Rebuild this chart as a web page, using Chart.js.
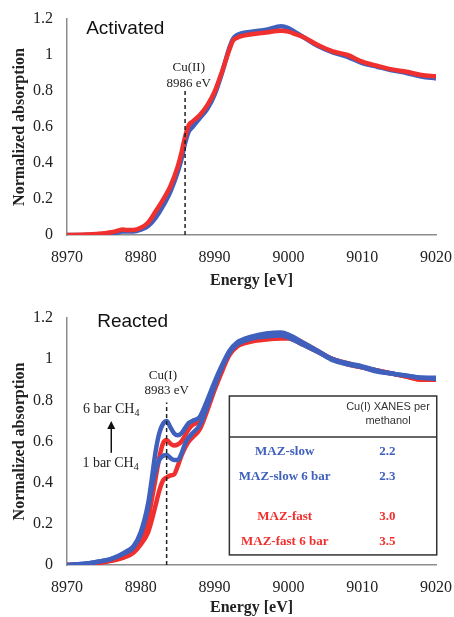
<!DOCTYPE html>
<html><head><meta charset="utf-8">
<script src="https://cdn.jsdelivr.net/npm/chart.js@4.4.1/dist/chart.umd.min.js"></script>
<style>
html,body{margin:0;padding:0;background:#fff;}
#wrap{position:relative;width:454px;height:617px;overflow:hidden;}
canvas{position:absolute;left:0;}
#c1{top:0}
#c2{top:300px}
</style></head><body>
<div id="wrap">
<canvas id="c1" width="454" height="300"></canvas>
<canvas id="c2" width="454" height="317"></canvas>
</div>
<script>
// ── DATA: activated (top) ──
const actEnergy = [8970, 8972, 8974, 8975, 8976, 8977, 8977.5, 8978, 8979, 8980, 8981, 8982, 8983, 8984, 8985, 8985.5, 8986, 8986.5, 8987, 8988, 8989, 8990, 8991, 8992, 8992.5, 8993, 8995, 8997, 8999, 9000, 9001, 9002, 9004, 9006, 9008, 9010, 9012, 9014, 9016, 9018, 9020];
const actRed  = [0, 0.002, 0.005, 0.01, 0.015, 0.025, 0.03, 0.028, 0.028, 0.04, 0.07, 0.13, 0.195, 0.27, 0.38, 0.455, 0.546, 0.61, 0.63, 0.667, 0.72, 0.796, 0.907, 1.03, 1.08, 1.095, 1.115, 1.125, 1.135, 1.13, 1.115, 1.1, 1.055, 1.02, 1.0, 0.963, 0.94, 0.92, 0.907, 0.889, 0.882];
const actBlue = [0, 0, 0, 0.002, 0.008, 0.015, 0.02, 0.02, 0.02, 0.03, 0.05, 0.095, 0.16, 0.24, 0.35, 0.42, 0.51, 0.575, 0.6, 0.65, 0.7, 0.78, 0.9, 1.04, 1.09, 1.11, 1.13, 1.14, 1.16, 1.15, 1.125, 1.1, 1.05, 1.015, 0.99, 0.955, 0.935, 0.915, 0.9, 0.88, 0.87];
const actEdge = 8986;

// ── DATA: reacted (bottom) ──
const reaEnergy = [8970, 8972, 8974, 8976, 8978, 8979, 8980, 8981, 8981.5, 8982, 8982.5, 8983, 8983.5, 8984, 8984.5, 8985, 8985.5, 8986, 8986.5, 8987, 8988, 8989, 8990, 8991, 8992, 8993, 8995, 8997, 8999, 9000, 9002, 9004, 9006, 9008, 9010, 9012, 9014, 9016, 9018, 9020];
const slow6bar = [0, 0.005, 0.015, 0.03, 0.065, 0.09, 0.16, 0.3, 0.42, 0.55, 0.64, 0.685, 0.70, 0.67, 0.64, 0.63, 0.64, 0.665, 0.69, 0.70, 0.72, 0.80, 0.89, 0.97, 1.04, 1.08, 1.11, 1.125, 1.13, 1.12, 1.08, 1.04, 1.0, 0.98, 0.965, 0.945, 0.93, 0.92, 0.91, 0.91];
const slow1bar = [0, 0.005, 0.015, 0.03, 0.06, 0.085, 0.15, 0.28, 0.38, 0.46, 0.51, 0.53, 0.535, 0.52, 0.51, 0.51, 0.54, 0.59, 0.62, 0.64, 0.68, 0.77, 0.87, 0.96, 1.03, 1.07, 1.1, 1.11, 1.115, 1.105, 1.07, 1.035, 0.995, 0.975, 0.96, 0.94, 0.93, 0.92, 0.91, 0.905];
const fast6bar = [0, 0.003, 0.01, 0.025, 0.05, 0.07, 0.11, 0.22, 0.32, 0.42, 0.52, 0.59, 0.607, 0.59, 0.58, 0.585, 0.6, 0.63, 0.66, 0.68, 0.70, 0.78, 0.87, 0.95, 1.03, 1.07, 1.095, 1.105, 1.11, 1.11, 1.08, 1.04, 1.0, 0.98, 0.96, 0.945, 0.93, 0.915, 0.9, 0.9];
const fast1bar = [0, 0.002, 0.008, 0.02, 0.04, 0.06, 0.1, 0.16, 0.22, 0.29, 0.36, 0.41, 0.425, 0.435, 0.44, 0.48, 0.53, 0.57, 0.6, 0.62, 0.66, 0.75, 0.85, 0.94, 1.02, 1.06, 1.085, 1.095, 1.1, 1.1, 1.07, 1.035, 1.0, 0.975, 0.96, 0.945, 0.93, 0.915, 0.9, 0.9];
const reaEdge = 8983.5;

// table inset
const tableNames  = ['MAZ-slow', 'MAZ-slow 6 bar', 'MAZ-fast', 'MAZ-fast 6 bar'];
const tableValues = ['2.2', '2.3', '3.0', '3.5'];

const BLUE = '#3f60bc';
const RED = '#f0302f';
const AXIS = '#8c8c8c';
const SERIF = "'Liberation Serif', 'Times New Roman', serif";
const SANS = "'Liberation Sans', Arial, sans-serif";

const pts = (xs, ys) => xs.map((x, i) => ({ x: x, y: ys[i] }));

function curve(xs, ys, color) {
  return { data: pts(xs, ys), borderColor: color, borderWidth: 4.5, pointRadius: 0, cubicInterpolationMode: 'monotone', fill: false };
}
function edgeLine(x, top) {
  return { data: [{ x: x, y: 0 }, { x: x, y: top }], borderColor: '#222', borderWidth: 1.5, borderDash: [4, 3], pointRadius: 0, fill: false };
}

function scales(xHeight, titlePad) {
  return {
    x: {
      type: 'linear', min: 8970, max: 9020,
      ticks: { stepSize: 10, color: '#222', font: { family: SERIF, size: 16 }, padding: 13, maxRotation: 0, callback: v => String(v) },
      grid: { display: false, drawTicks: false },
      border: { color: AXIS, width: 1.5 },
      title: { display: true, text: 'Energy [eV]', color: '#222', font: { family: SERIF, size: 16, weight: 'bold' }, padding: { top: 0, bottom: titlePad } },
      afterFit: s => { s.height = xHeight; s.paddingLeft = 0; s.paddingRight = 0; }
    },
    y: {
      min: 0, max: 1.2,
      ticks: { stepSize: 0.2, color: '#222', font: { family: SERIF, size: 16 }, padding: 14, callback: v => String(+v.toFixed(1)) },
      grid: { display: false, drawTicks: false },
      border: { color: AXIS, width: 1.5 },
      title: { display: true, text: 'Normalized absorption', color: '#222', font: { family: SERIF, size: 16, weight: 'bold' }, padding: { top: 10, bottom: 0 } },
      afterFit: s => { s.width = 67; s.paddingTop = 0; s.paddingBottom = 0; }
    }
  };
}

function put(chart, s, xv, yv, font, color, align) {
  const { ctx, scales: { x, y } } = chart;
  ctx.save();
  ctx.font = font;
  ctx.fillStyle = color;
  ctx.textAlign = align || 'center';
  ctx.textBaseline = 'middle';
  ctx.fillText(s, x.getPixelForValue(xv), y.getPixelForValue(yv));
  ctx.restore();
}

// text with subscript, e.g. CH4
function putSub(chart, main, sub, xv, yv) {
  const { ctx, scales: { x, y } } = chart;
  ctx.save();
  ctx.fillStyle = '#222';
  ctx.textBaseline = 'middle';
  ctx.font = '14px ' + SERIF;
  const w1 = ctx.measureText(main).width;
  ctx.font = '10px ' + SERIF;
  const w2 = ctx.measureText(sub).width;
  const px = x.getPixelForValue(xv) - (w1 + w2) / 2;
  const py = y.getPixelForValue(yv);
  ctx.textAlign = 'left';
  ctx.font = '14px ' + SERIF;
  ctx.fillText(main, px, py);
  ctx.font = '10px ' + SERIF;
  ctx.fillText(sub, px + w1, py + 4);
  ctx.restore();
}

const topLabels = {
  id: 'topLabels',
  afterDraw(chart) {
    put(chart, 'Activated', 8972.6, 1.144, '19px ' + SANS, '#111', 'left');
    put(chart, 'Cu(II)', 8986.5, 0.928, '13px ' + SERIF, '#222');
    put(chart, '8986 eV', 8986.5, 0.844, '13px ' + SERIF, '#222');
  }
};

const bottomLabels = {
  id: 'bottomLabels',
  afterDraw(chart) {
    const { ctx, scales: { x, y } } = chart;
    put(chart, 'Reacted', 8974.1, 1.18, '19px ' + SANS, '#111', 'left');
    put(chart, 'Cu(I)', 8983.0, 0.918, '13px ' + SERIF, '#222');
    put(chart, '8983 eV', 8983.5, 0.845, '13px ' + SERIF, '#222');
    putSub(chart, '6 bar CH', '4', 8976, 0.758);
    putSub(chart, '1 bar CH', '4', 8975.9, 0.496);

    // arrow 1 bar -> 6 bar
    const ax = x.getPixelForValue(8976);
    const ay0 = y.getPixelForValue(0.545), ay1 = y.getPixelForValue(0.70);
    ctx.save();
    ctx.strokeStyle = '#111';
    ctx.fillStyle = '#111';
    ctx.lineWidth = 1.5;
    ctx.beginPath(); ctx.moveTo(ax, ay0); ctx.lineTo(ax, ay1 + 6); ctx.stroke();
    ctx.beginPath(); ctx.moveTo(ax, ay1); ctx.lineTo(ax - 4, ay1 + 8); ctx.lineTo(ax + 4, ay1 + 8); ctx.closePath(); ctx.fill();

    // table inset
    const l = x.getPixelForValue(8992), r = x.getPixelForValue(9020.1);
    const t = y.getPixelForValue(0.821), b = y.getPixelForValue(0.049);
    const sep = y.getPixelForValue(0.622);
    ctx.fillStyle = '#fff';
    ctx.fillRect(l, t, r - l, b - t);
    ctx.strokeStyle = '#333';
    ctx.lineWidth = 1.5;
    ctx.strokeRect(l, t, r - l, b - t);
    ctx.beginPath(); ctx.moveTo(l, sep); ctx.lineTo(r, sep); ctx.stroke();
    ctx.restore();

    put(chart, 'Cu(I) XANES per', 9013.5, 0.768, '11px ' + SANS, '#333');
    put(chart, 'methanol', 9013.5, 0.70, '11px ' + SANS, '#333');
    const rowY = [0.549, 0.428, 0.233, 0.112];
    tableNames.forEach((n, i) => {
      const c = i < 2 ? BLUE : RED;
      put(chart, n, 8999.5, rowY[i], 'bold 13px ' + SERIF, c);
      put(chart, tableValues[i], 9013.4, rowY[i], 'bold 13px ' + SERIF, c);
    });
  }
};

const common = {
  responsive: false,
  animation: false,
  devicePixelRatio: 1,
  plugins: { legend: { display: false }, tooltip: { enabled: false } }
};

new Chart(document.getElementById('c1'), {
  type: 'line',
  data: {
    datasets: [
      edgeLine(actEdge, 0.805),
      curve(actEnergy, actRed, RED),
      curve(actEnergy, actBlue, BLUE)
    ]
  },
  options: Object.assign({}, common, {
    layout: { padding: { top: 19, right: 18, bottom: 0, left: 0 } },
    scales: scales(65, 10)
  }),
  plugins: [topLabels]
});

new Chart(document.getElementById('c2'), {
  type: 'line',
  data: {
    datasets: [
      edgeLine(reaEdge, 0.79),
      curve(reaEnergy, slow6bar, BLUE),
      curve(reaEnergy, slow1bar, BLUE),
      curve(reaEnergy, fast6bar, RED),
      curve(reaEnergy, fast1bar, RED)
    ]
  },
  options: Object.assign({}, common, {
    layout: { padding: { top: 18, right: 18, bottom: 0, left: 0 } },
    scales: scales(52, 0)
  }),
  plugins: [bottomLabels]
});
</script>
</body></html>
